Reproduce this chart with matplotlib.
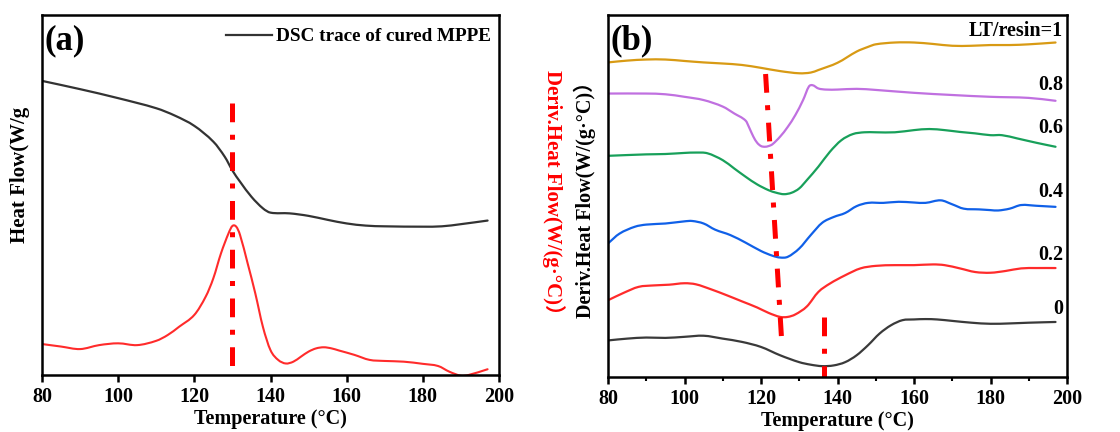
import numpy as np
import matplotlib
matplotlib.use("Agg")
import matplotlib.pyplot as plt
from matplotlib.path import Path
from matplotlib.patches import PathPatch

plt.rcParams['font.family'] = ['Liberation Serif', 'Noto Sans CJK SC', 'DejaVu Sans']
plt.rcParams['font.weight'] = 'bold'
plt.rcParams['lines.scale_dashes'] = False

# ---------------- panel (a): DSC trace and its derivative ----------------
dsc_T = [80, 90, 100, 110, 115, 120, 125, 128, 130, 132, 135, 138, 140, 145,
         150, 155, 160, 165, 170, 180, 185, 190, 197]
dsc_hf = [81.7, 79.4, 76.9, 74.1, 72.0, 69.2, 64.8, 60.6, 56.8, 53.7, 49.5,
          46.3, 45.1, 44.9, 44.2, 43.1, 42.1, 41.5, 41.3, 41.2, 41.3, 41.9, 42.9]

deriv_T = [80, 85, 90, 95, 100, 105, 110, 113, 116, 120, 123, 125, 127, 129,
           130, 131, 132, 134, 136, 138, 140, 142, 144, 146, 148, 150, 152,
           154, 156, 158, 162, 166, 170, 175, 180, 184, 187, 190, 192, 197]
deriv_hf = [8.6, 7.9, 7.2, 8.3, 8.8, 8.3, 9.5, 11.1, 13.4, 16.7, 21.8, 26.9,
            33.8, 39.4, 41.4, 41.2, 38.9, 31.0, 22.7, 13.4, 6.9, 4.2, 3.2, 3.7,
            5.1, 6.5, 7.4, 7.7, 7.4, 6.8, 5.6, 4.2, 3.9, 3.7, 3.1, 2.5, 0.9,
            -0.2, 0.0, 1.6]

peak_a_T = 130
peak_a_span = [75.5, 0]

# ---------------- panel (b): derivative curves vs LT/resin ----------------
ratio_labels = ["LT/resin=1", "0.8", "0.6", "0.4", "0.2", "0"]
ratio_colors = ["#D89A14", "#C070E0", "#18A05A", "#1060E8", "#FF2B2B", "#3A3A3A"]

T_r10 = [80, 85, 90, 95, 100, 105, 110, 115, 120, 125, 130, 133, 135, 140, 145,
         148, 150, 155, 160, 165, 170, 175, 180, 185, 190, 197]
hf_r10 = [86.9, 87.4, 87.7, 87.7, 87.3, 86.9, 86.6, 86.2, 85.4, 84.5, 83.9,
          84.1, 84.8, 86.8, 89.9, 91.2, 91.9, 92.4, 92.4, 92.0, 91.5, 91.5,
          91.7, 91.7, 91.9, 92.4]

T_r08 = [80, 90, 95, 100, 105, 110, 113, 116, 117, 118, 119, 120, 121, 122, 123,
         125, 127, 129, 131, 132.5, 133.5, 135, 137, 140, 145, 150, 160, 170,
         180, 190, 197]
hf_r08 = [78.3, 78.3, 78.1, 77.4, 76.5, 74.7, 72.8, 70.8, 68.7, 66.4, 64.7,
          63.8, 63.6, 63.8, 64.3, 66.4, 69.1, 72.4, 76.5, 80.2, 80.6, 79.7,
          79.4, 79.4, 79.6, 79.3, 78.5, 77.9, 77.4, 77.1, 76.3]

T_r06 = [80, 90, 95, 100, 103, 106, 110, 113, 116, 119, 122, 124, 126, 128, 130,
         132, 135, 138, 141, 144, 147, 150, 155, 160, 164, 168, 172, 176, 180,
         183, 187, 192, 197]
hf_r06 = [61.1, 61.5, 61.6, 61.9, 62.0, 61.8, 59.9, 57.6, 55.3, 53.2, 51.6,
          50.9, 50.5, 50.9, 52.1, 54.4, 58.1, 62.2, 65.4, 67.1, 67.6, 67.6,
          67.6, 68.2, 68.5, 68.2, 67.7, 67.3, 66.8, 66.8, 65.9, 64.7, 63.6]

T_r04 = [80, 83, 87, 90, 95, 100, 102, 105, 108, 112, 116, 120, 123, 125, 127,
         130, 133, 136, 139, 142, 145, 148, 152, 156, 160, 163, 167, 170, 173,
         177, 180, 182, 185, 188, 192, 197]
hf_r04 = [36.9, 39.6, 41.5, 42.1, 42.4, 43.0, 43.1, 42.4, 40.7, 39.2, 37.1,
          34.8, 33.5, 33.0, 33.2, 35.5, 39.2, 42.6, 44.2, 45.3, 47.2, 48.1,
          48.1, 48.4, 48.2, 48.1, 48.8, 47.7, 46.5, 46.3, 46.1, 46.0, 46.5,
          47.5, 47.3, 47.0]

T_r02 = [80, 84, 88, 92, 96, 100, 103, 107, 111, 115, 119, 122, 125, 127, 129,
         132, 135, 138, 142, 146, 150, 155, 160, 165, 168, 172, 176, 180, 184,
         188, 192, 197]
hf_r02 = [21.2, 23.2, 24.9, 25.3, 25.5, 25.9, 25.6, 24.2, 22.6, 20.9, 19.2,
          17.7, 16.6, 16.6, 17.3, 19.5, 23.5, 25.8, 28.1, 30.0, 30.7, 30.9,
          30.9, 31.1, 30.9, 30.0, 29.0, 28.8, 29.3, 30.0, 30.1, 30.1]

T_r00 = [80, 85, 90, 95, 100, 105, 110, 115, 120, 125, 130, 133, 136, 139, 142,
         145, 148, 151, 154, 157, 160, 163, 166, 170, 175, 180, 185, 190, 197]
hf_r00 = [10.1, 10.6, 10.9, 10.8, 11.1, 11.4, 10.6, 9.7, 8.3, 6.0, 4.1, 3.4,
          3.0, 3.2, 4.1, 6.0, 8.8, 12.0, 14.3, 15.7, 15.9, 16.0, 15.9, 15.5,
          15.0, 14.7, 14.8, 15.0, 15.2]

label_y = [95.7, 80.6, 68.8, 51.2, 33.6, 18.9]

shift_T = [121.2, 125.5]
shift_hf = [83.7, 8.3]
peak_b0_T = 136.5
peak_b0_span = [16.6, 0]

DASHDOT = (0, (13.5, 9.0, 3.6, 9.0))


def smooth_curve(ax, xs, ys, color, lw=1.6):
    """Draw a curve through the points as cubic Hermite segments (Bezier path)."""
    x = np.asarray(xs, float)
    y = np.asarray(ys, float)
    n = len(x)
    d = np.diff(y) / np.diff(x)
    m = np.empty(n)
    m[0], m[-1] = d[0], d[-1]
    m[1:-1] = (y[2:] - y[:-2]) / (x[2:] - x[:-2])
    verts = [(x[0], y[0])]
    codes = [Path.MOVETO]
    for i in range(n - 1):
        h = x[i + 1] - x[i]
        verts += [(x[i] + h / 3, y[i] + m[i] * h / 3),
                  (x[i + 1] - h / 3, y[i + 1] - m[i + 1] * h / 3),
                  (x[i + 1], y[i + 1])]
        codes += [Path.CURVE4] * 3
    patch = PathPatch(Path(verts, codes), facecolor='none', edgecolor=color,
                      lw=lw, capstyle='round', joinstyle='round')
    ax.add_patch(patch)
    return patch


fig = plt.figure(figsize=(11.2, 4.32), dpi=100)
ax_a = fig.add_axes([42 / 1120, 57 / 432, 457 / 1120, 360 / 432])
ax_b = fig.add_axes([608 / 1120, 55 / 432, 459 / 1120, 362 / 432])

for ax in (ax_a, ax_b):
    ax.set_xlim(80, 200)
    ax.set_ylim(0, 100)
    ax.set_xticks(np.arange(80, 201, 20))
    ax.set_yticks([])
    for s in ax.spines.values():
        s.set_linewidth(1.8)
    ax.tick_params(axis='x', which='major', direction='out', length=5, width=1.8,
                   labelsize=14.5, pad=4)
    for lab in ax.get_xticklabels():
        lab.set_fontweight('bold')
    ax.set_xlabel("Temperature (°C)", fontsize=14.5, fontweight='bold', labelpad=1)

ax_b.set_xticks(np.arange(90, 200, 20), minor=True)
ax_b.tick_params(axis='x', which='minor', direction='out', length=3, width=1.5)

# panel (a)
line_dsc, = ax_a.plot([], [], color='#333333', lw=1.6)
smooth_curve(ax_a, dsc_T, dsc_hf, '#333333', lw=1.6)
smooth_curve(ax_a, deriv_T, deriv_hf, '#FF2B2B', lw=1.5)
ax_a.plot([peak_a_T, peak_a_T], peak_a_span, color='red', lw=3.6,
          linestyle=DASHDOT, solid_capstyle='butt', dash_capstyle='butt')
ax_a.legend([line_dsc], ["DSC trace of cured MPPE"], loc='upper right',
            frameon=False, handlelength=2.4, handletextpad=0.2,
            borderaxespad=0.0, bbox_to_anchor=(1.0, 0.985),
            prop=dict(weight='bold', size=13.8))
ax_a.text(0.006, 0.975, "(a)", transform=ax_a.transAxes, ha='left', va='top',
          fontsize=25, fontweight='bold')
fig.text(20 / 1120, 1 - 175 / 432, "Heat Flow(W/g", rotation=90, ha='center',
         va='center', fontsize=15, fontweight='bold')
fig.text(553 / 1120, 1 - 197 / 432, "Deriv.Heat Flow(W/(g·°C)）", rotation=270,
         ha='center', va='center', fontsize=15, fontweight='bold', color='red')

# panel (b)
series_T = [T_r10, T_r08, T_r06, T_r04, T_r02, T_r00]
series_hf = [hf_r10, hf_r08, hf_r06, hf_r04, hf_r02, hf_r00]
for T, hf, c in zip(series_T, series_hf, ratio_colors):
    smooth_curve(ax_b, T, hf, c, lw=1.6)
for lab, y in zip(ratio_labels, label_y):
    ax_b.text(199, y, lab, ha='right', va='center', fontsize=14.5, fontweight='bold')
ax_b.plot(shift_T, shift_hf, color='red', lw=3.6, linestyle=DASHDOT,
          solid_capstyle='butt', dash_capstyle='butt')
ax_b.plot([peak_b0_T, peak_b0_T], peak_b0_span, color='red', lw=3.6,
          linestyle=DASHDOT, solid_capstyle='butt', dash_capstyle='butt')
ax_b.text(0.006, 0.975, "(b)", transform=ax_b.transAxes, ha='left', va='top',
          fontsize=25, fontweight='bold')
fig.text(585 / 1120, 1 - 195 / 432, "Deriv.Heat Flow(W/(g·°C)）", rotation=90,
         ha='center', va='center', fontsize=14.5, fontweight='bold')

fig.savefig("out.png", dpi=100)
